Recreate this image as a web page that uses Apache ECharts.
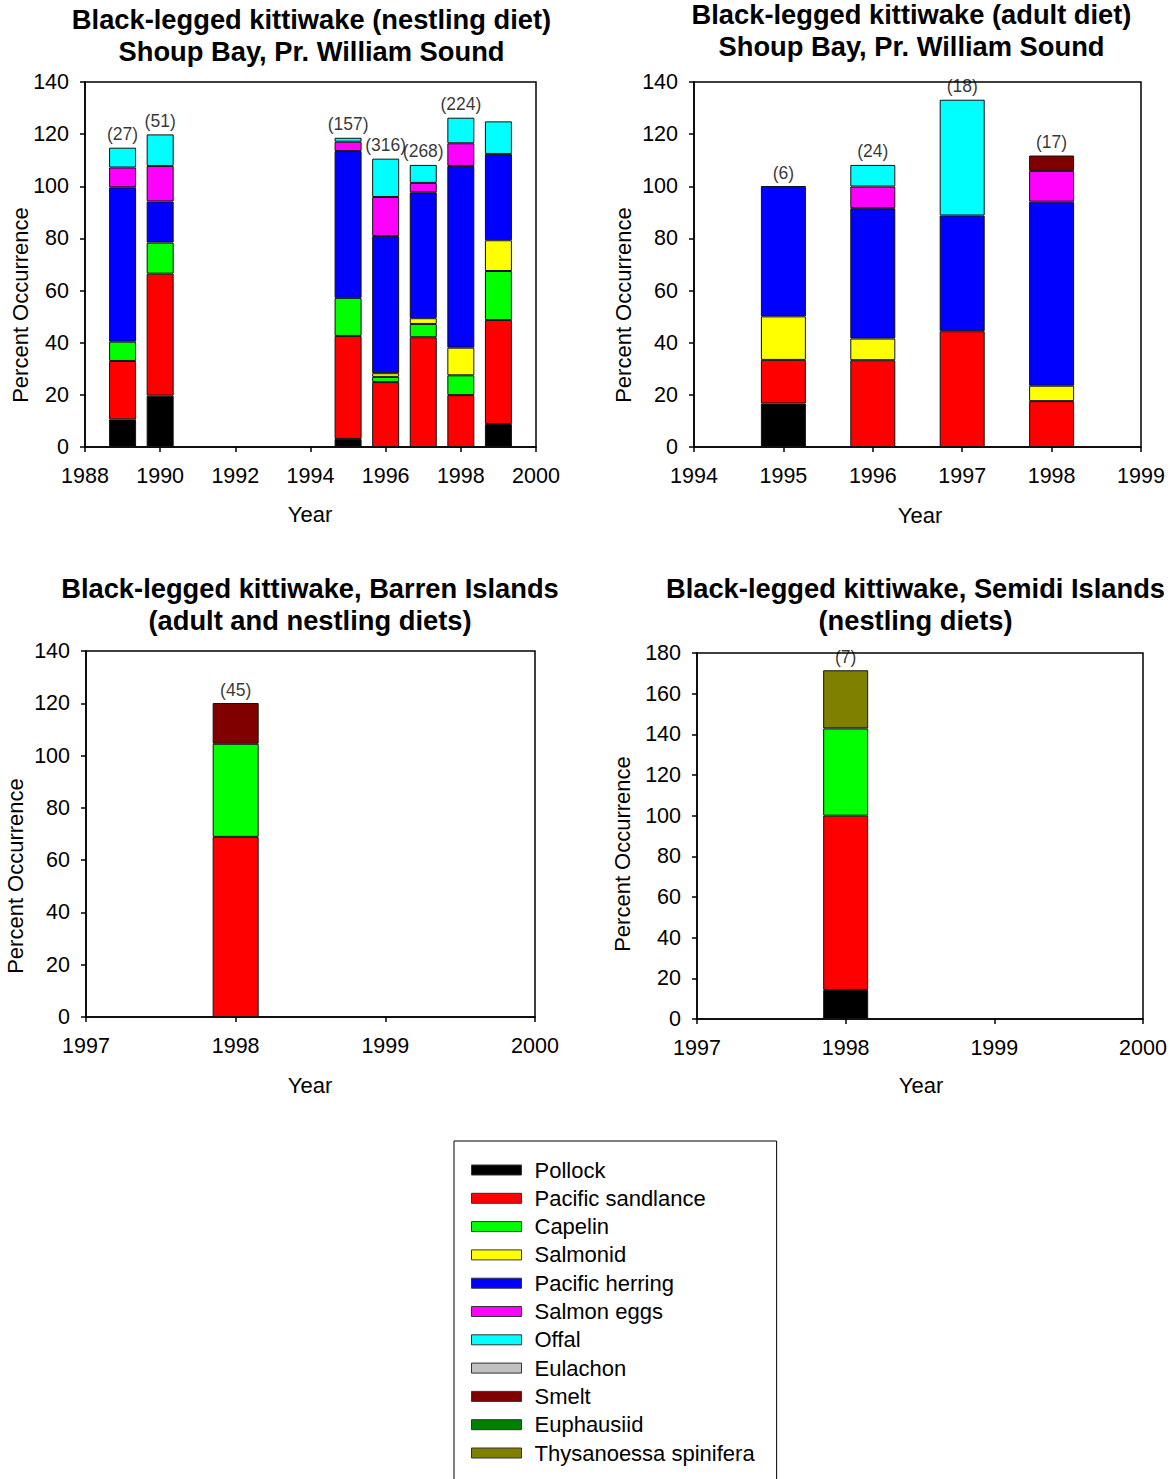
<!DOCTYPE html>
<html>
<head>
<meta charset="utf-8">
<script src="https://cdn.jsdelivr.net/npm/echarts@6/dist/echarts.min.js"></script>
<style>
  html, body { margin: 0; padding: 0; background: #fff; }
  #chart { width: 1172px; height: 1479px; }
</style>
</head>
<body>
<div id="chart"></div>
<script>
// ---------- Legend / species ----------
const SPECIES = ['Pollock', 'Pacific sandlance', 'Capelin', 'Salmonid', 'Pacific herring', 'Salmon eggs', 'Offal', 'Eulachon', 'Smelt', 'Euphausiid', 'Thysanoessa spinifera'];
const COLORS = ['#000000', '#FF0000', '#00FF00', '#FFFF00', '#0000FF', '#FF00FF', '#00FFFF', '#C0C0C0', '#800000', '#008000', '#808000'];

// ---------- Chart A: Shoup Bay nestling diet ----------
const axisA = ['1988', '1989', '1990', '1991', '1992', '1993', '1994', '1995', '1996', '1997', '1998', '1999', '2000'];
const yearsA = [1989, 1990, 1995, 1996, 1997, 1998, 1999];
const countsA = ['(27)', '(51)', '(157)', '(316)', '(268)', '(224)', ''];
const pollockA = [10.6, 19.7, 3.1, 0, 0, 0, 8.8];
const sandlanceA = [22.4, 46.8, 39.5, 24.9, 42.1, 19.9, 39.9];
const capelinA = [7.4, 11.9, 14.6, 2.0, 5.1, 7.6, 18.8];
const salmonidA = [0, 0, 0, 1.4, 2.2, 10.6, 11.8];
const herringA = [59.2, 15.8, 56.3, 52.6, 48.3, 69.7, 33.1];
const eggsA = [7.6, 13.6, 3.6, 15.0, 3.6, 8.7, 0];
const offalA = [7.6, 12.1, 1.5, 14.7, 6.9, 9.8, 12.5];

// ---------- Chart B: Shoup Bay adult diet ----------
const axisB = ['1994', '1995', '1996', '1997', '1998', '1999'];
const yearsB = [1995, 1996, 1997, 1998];
const countsB = ['(6)', '(24)', '(18)', '(17)'];
const pollockB = [16.7, 0, 0, 0];
const sandlanceB = [16.7, 33.3, 44.4, 17.6];
const salmonidB = [16.7, 8.3, 0, 5.9];
const herringB = [50.0, 50.0, 44.4, 70.6];
const eggsB = [0, 8.3, 0, 11.8];
const offalB = [0, 8.3, 44.4, 0];
const smeltB = [0, 0, 0, 5.9];

// ---------- Chart C: Barren Islands ----------
const axisC = ['1997', '1998', '1999', '2000'];
const yearsC = [1998];
const countsC = ['(45)'];
const sandlanceC = [68.9];
const capelinC = [35.6];
const smeltC = [15.6];

// ---------- Chart D: Semidi Islands ----------
const axisD = ['1997', '1998', '1999', '2000'];
const yearsD = [1998];
const countsD = ['(7)'];
const pollockD = [14.3];
const sandlanceD = [85.7];
const capelinD = [42.9];
const thysanoessaD = [28.6];

const charts = [
  { cats: axisA, years: yearsA, counts: countsA, step: 2, yMax: 140, barWidth: 27,
    values: { 'Pollock': pollockA, 'Pacific sandlance': sandlanceA, 'Capelin': capelinA, 'Salmonid': salmonidA,
              'Pacific herring': herringA, 'Salmon eggs': eggsA, 'Offal': offalA } },
  { cats: axisB, years: yearsB, counts: countsB, step: 1, yMax: 140, barWidth: 45,
    values: { 'Pollock': pollockB, 'Pacific sandlance': sandlanceB, 'Salmonid': salmonidB, 'Pacific herring': herringB,
              'Salmon eggs': eggsB, 'Offal': offalB, 'Smelt': smeltB } },
  { cats: axisC, years: yearsC, counts: countsC, step: 1, yMax: 140, barWidth: 46,
    values: { 'Pacific sandlance': sandlanceC, 'Capelin': capelinC, 'Smelt': smeltC } },
  { cats: axisD, years: yearsD, counts: countsD, step: 1, yMax: 180, barWidth: 45,
    values: { 'Pollock': pollockD, 'Pacific sandlance': sandlanceD, 'Capelin': capelinD, 'Thysanoessa spinifera': thysanoessaD } }
];

const FONT = "'Liberation Sans', Arial, Helvetica, sans-serif";
const grids = [
  { left: 85, top: 82, width: 451, height: 365 },
  { left: 694, top: 82, width: 447, height: 365 },
  { left: 86, top: 651, width: 449, height: 366 },
  { left: 697, top: 653, width: 446, height: 366 }
];

const xAxes = [], yAxes = [], series = [];
charts.forEach((c, g) => {
  xAxes.push({
    type: 'category', gridIndex: g, data: c.cats, boundaryGap: false,
    axisLine: { show: true, lineStyle: { color: '#000', width: 1.5 } },
    axisTick: { show: true, interval: c.step - 1, length: 5, lineStyle: { color: '#000', width: 1.5 } },
    axisLabel: { interval: c.step - 1, margin: 18, fontSize: 21.5, color: '#000', fontFamily: FONT },
    splitLine: { show: false }
  });
  yAxes.push({
    type: 'value', gridIndex: g, min: 0, max: c.yMax, interval: 20,
    axisLine: { show: true, lineStyle: { color: '#000', width: 1.5 } },
    axisTick: { show: true, length: 5, lineStyle: { color: '#000', width: 1.5 } },
    axisLabel: { margin: 16, fontSize: 21.5, color: '#000', fontFamily: FONT },
    splitLine: { show: false }
  });
  SPECIES.forEach((sp, k) => {
    const arr = c.values[sp];
    const data = c.cats.map(cat => {
      const i = c.years.indexOf(+cat);
      if (i < 0 || !arr || !arr[i]) return '-';
      return arr[i];
    });
    series.push({
      type: 'bar', name: sp, stack: 'stack' + g, xAxisIndex: g, yAxisIndex: g,
      barWidth: c.barWidth, data: data, silent: true,
      itemStyle: { color: COLORS[k], borderColor: '#111', borderWidth: 1 }
    });
  });
  const totals = c.cats.map(cat => {
    const i = c.years.indexOf(+cat);
    if (i < 0) return '-';
    let s = 0;
    Object.keys(c.values).forEach(key => { s += c.values[key][i] || 0; });
    return s;
  });
  series.push({
    type: 'scatter', name: 'n' + g, xAxisIndex: g, yAxisIndex: g, data: totals,
    symbolSize: 1, itemStyle: { color: 'rgba(0,0,0,0)' }, silent: true,
    label: {
      show: true, position: 'top', distance: 4, fontSize: 17.5, color: '#000', fontFamily: FONT,
      formatter: p => { const i = c.years.indexOf(+c.cats[p.dataIndex]); return i < 0 ? '' : c.counts[i]; }
    }
  });
});

const titleFont = 'bold 27.3px ' + FONT;
const axisFont = '22px ' + FONT;
function textEl(text, x, y, font, rot) {
  return {
    type: 'text', x: x, y: y, rotation: rot || 0, silent: true,
    style: { text: text, font: font, fill: '#000', align: 'center', verticalAlign: 'middle', lineHeight: 32 }
  };
}
const graphics = [
  textEl('Black-legged kittiwake (nestling diet)\nShoup Bay, Pr. William Sound', 311.5, 35, titleFont),
  textEl('Black-legged kittiwake (adult diet)\nShoup Bay, Pr. William Sound', 911.5, 30, titleFont),
  textEl('Black-legged kittiwake, Barren Islands\n(adult and nestling diets)', 310, 604, titleFont),
  textEl('Black-legged kittiwake, Semidi Islands\n(nestling diets)', 915.5, 604, titleFont),
  textEl('Percent Occurrence', 20, 305, axisFont, Math.PI / 2),
  textEl('Percent Occurrence', 623, 305, axisFont, Math.PI / 2),
  textEl('Percent Occurrence', 15, 876, axisFont, Math.PI / 2),
  textEl('Percent Occurrence', 622, 854, axisFont, Math.PI / 2),
  textEl('Year', 310, 514, axisFont),
  textEl('Year', 920, 515, axisFont),
  textEl('Year', 310, 1085, axisFont),
  textEl('Year', 921, 1085, axisFont)
];

const chart = echarts.init(document.getElementById('chart'), null, { renderer: 'svg' });
chart.setOption({
  backgroundColor: '#ffffff',
  animation: false,
  grid: grids.map(g => Object.assign({ show: true, borderColor: '#000', borderWidth: 1.5, backgroundColor: 'transparent' }, g)),
  xAxis: xAxes,
  yAxis: yAxes,
  series: series,
  legend: {
    data: SPECIES, orient: 'vertical', left: 454, top: 1141, height: 400,
    padding: [18, 22, 20, 17], itemWidth: 50, itemHeight: 10, itemGap: 6.3, icon: 'rect',
    borderColor: '#000', borderWidth: 1, selectedMode: false,
    itemStyle: { borderColor: '#333', borderWidth: 1 },
    textStyle: { fontSize: 22, lineHeight: 22, color: '#000', fontFamily: FONT, padding: [0, 0, 0, 8] }
  },
  graphic: graphics
});
</script>
</body>
</html>
